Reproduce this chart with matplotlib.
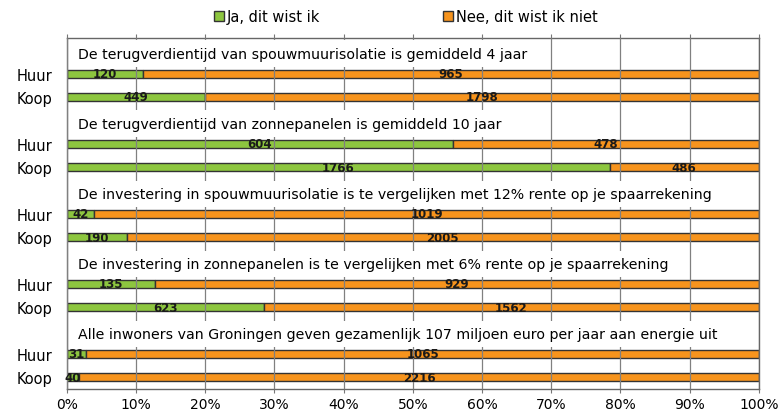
import matplotlib.pyplot as plt
import numpy as np

# Data
titles = [
    'De terugverdientijd van spouwmuurisolatie is gemiddeld 4 jaar',
    'De terugverdientijd van zonnepanelen is gemiddeld 10 jaar',
    'De investering in spouwmuurisolatie is te vergelijken met 12% rente op je spaarrekening',
    'De investering in zonnepanelen is te vergelijken met 6% rente op je spaarrekening',
    'Alle inwoners van Groningen geven gezamenlijk 107 miljoen euro per jaar aan energie uit',
]
groups = ['Huur', 'Koop']
ja = np.array([[120, 449], [604, 1766], [42, 190], [135, 623], [31, 40]])
nee = np.array([[965, 1798], [478, 486], [1019, 2005], [929, 1562], [1065, 2216]])
xticks = np.arange(0, 101, 10)

green = '#8dc63f'
orange = '#f7941d'

fig = plt.figure(figsize=(7.8, 4.14), dpi=100)
ax = fig.add_axes([0.0855, 0.058, 0.973 - 0.0855, 0.9046 - 0.058])

ypos, ylabels = [], []
for g, title in enumerate(titles):
    base = g * 3
    ax.text(1.7, base + 0.15, title, va='center', ha='left', fontsize=10.2,
            bbox=dict(boxstyle='square,pad=0.45', fc='white', ec='none'), zorder=3)
    for k, name in enumerate(groups):
        y = base + 1 + k
        total = ja[g, k] + nee[g, k]
        pj = ja[g, k] / total * 100
        pn = nee[g, k] / total * 100
        ax.barh(y, pj, height=0.34, color=green, edgecolor='#333333', linewidth=1)
        ax.barh(y, pn, left=pj, height=0.34, color=orange, edgecolor='#333333', linewidth=1)
        ax.text(pj / 2, y, str(ja[g, k]), ha='center', va='center', fontsize=8.5,
                fontweight='bold', color='#1a1a1a', zorder=4)
        ax.text(pj + pn / 2, y, str(nee[g, k]), ha='center', va='center', fontsize=8.5,
                fontweight='bold', color='#1a1a1a', zorder=4)
        ypos.append(y)
        ylabels.append(name)

ax.set_xlim(0, 100)
ax.set_ylim(14.5, -0.5)
ax.set_xticks(xticks)
ax.set_xticklabels([f'{v}%' for v in xticks], fontsize=10)
ax.set_yticks(ypos)
ax.set_yticklabels(ylabels, fontsize=10.5)
ax.tick_params(axis='y', length=0, pad=10)
ax.tick_params(axis='x', top=True, direction='out', length=3, color='#777777', pad=3)
ax.set_axisbelow(False)
ax.grid(axis='x', color='#808080', linewidth=0.9)
for s in ax.spines.values():
    s.set_color('#666666')
    s.set_linewidth(1)

# Legend
h1 = plt.Rectangle((0, 0), 1, 1, fc=green, ec='#333333', lw=1)
h2 = plt.Rectangle((0, 0), 1, 1, fc=orange, ec='#333333', lw=1)
fig.legend([h1, h2], ['Ja, dit wist ik', 'Nee, dit wist ik niet'], loc='center',
           bbox_to_anchor=(0.52, 0.957), ncol=2, frameon=False, fontsize=10.5,
           handlelength=0.7, handleheight=0.7, handletextpad=0.2, columnspacing=8.4)

fig.savefig('out.png', dpi=100)
